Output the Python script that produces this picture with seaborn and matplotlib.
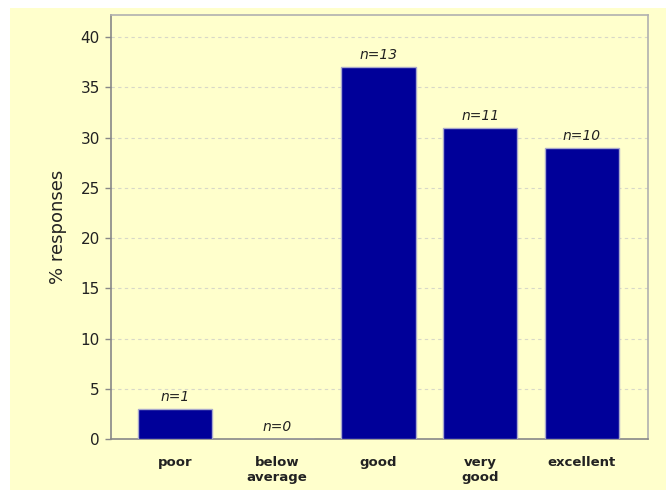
import matplotlib
matplotlib.use("Agg")
import matplotlib.pyplot as plt
import matplotlib.patches as mpatches
import seaborn as sns
import pandas as pd

categories = ["poor", "below\naverage", "good", "very\ngood", "excellent"]
percent = [3, 0, 37, 31, 29]
counts = [1, 0, 13, 11, 10]
yticks = [0, 5, 10, 15, 20, 25, 30, 35, 40]

sns.set_theme(style="white")
plt.rcParams['font.family'] = ['DejaVu Sans']

bg = "#FFFFCC"
fig = plt.figure(figsize=(6.66, 4.9), dpi=100, facecolor="white")
rect = mpatches.Rectangle((10 / 666, 0), 1, 1 - 8 / 490,
                          transform=fig.transFigure, facecolor=bg,
                          edgecolor="none", zorder=-10)
fig.add_artist(rect)
ax = fig.add_axes([111 / 666, 1 - 439 / 490, (648 - 111) / 666, (439 - 15) / 490])
ax.set_zorder(5)
ax.set_facecolor(bg)

df = pd.DataFrame({"cat": categories, "pct": percent})
sns.barplot(data=df, x="cat", y="pct", ax=ax, color="#000099", saturation=1,
            width=0.73, edgecolor="#a8a8cc", linewidth=1.0, zorder=3)

ax.set_xlim(-0.63, 4.65)
ax.set_ylim(0, 42.2)
ax.set_yticks(yticks)
ax.yaxis.grid(True, linestyle=(0, (3, 3)), color="#d8d8c8", linewidth=0.8, zorder=0)
ax.xaxis.grid(False)

for i, (p, c) in enumerate(zip(percent, counts)):
    ax.text(i, p + 0.5, f"n={c}", ha="center", va="bottom", fontsize=10,
            fontstyle="italic", color="#222222", fontfamily="DejaVu Sans")

for s in ["top", "right"]:
    ax.spines[s].set_color("#b0b0b0")
    ax.spines[s].set_linewidth(1.2)
for s in ["left", "bottom"]:
    ax.spines[s].set_color("#888888")
    ax.spines[s].set_linewidth(1.2)

ax.tick_params(axis="y", which="both", left=True, length=4, width=1, color="#888888",
               labelsize=11, labelcolor="#222222", pad=4)
ax.tick_params(axis="x", bottom=False, labelsize=9.5, labelcolor="#222222", pad=6)
for lab in ax.get_xticklabels():
    lab.set_fontweight("semibold")
ax.set_xlabel("")
ax.set_ylabel("% responses", fontsize=13, color="#222222", labelpad=10)

fig.savefig("out.png", dpi=100, facecolor="white")
